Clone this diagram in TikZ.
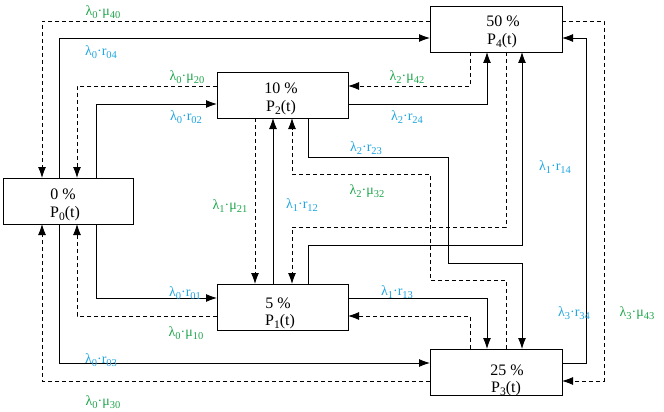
\documentclass[tikz,border=0pt]{standalone}
\usepackage{fontspec}
\setmainfont{Liberation Serif}
\usetikzlibrary{arrows.meta}
\definecolor{lblue}{RGB}{30,165,225}
\definecolor{lgreen}{RGB}{30,165,75}
\newcommand\lsub[1]{\raisebox{-3pt}{\fontsize{10.5}{11}\selectfont #1}}
\newcommand\bsub[1]{\raisebox{-3pt}{\fontsize{11.5}{12}\selectfont #1}}
\newcommand\rlab[3]{λ\lsub{#1}·#2\lsub{#3}}
\tikzset{
  statebox/.style={draw,line width=0.9pt,minimum width=#1,minimum height=46pt,inner sep=0pt,outer sep=0pt},
  boxtxt/.style={inner sep=0pt,font=\fontsize{16}{18}\selectfont},
  conn/.style={line width=0.9pt},
  dsh/.style={line width=0.9pt,dash pattern=on 4pt off 3pt},
  arr/.style={-{Latex[length=11pt,width=8pt]}},
  bl/.style={inner sep=0pt,text=lblue,font=\fontsize{14}{16}\selectfont},
  gr/.style={inner sep=0pt,text=lgreen,font=\fontsize{14}{16}\selectfont}
}
\begin{document}
\begin{tikzpicture}[x=1pt,y=-1pt]
\useasboundingbox (0,0) rectangle (664,412);
% boxes
\node[statebox=132pt] (P4) at (496,29) {};
\node[statebox=131pt] (P2) at (282.5,95) {};
\node[statebox=130pt] (P0) at (68,201) {};
\node[statebox=131pt] (P1) at (282.5,307) {};
\node[statebox=132pt] (P3) at (496,372) {};
% box texts
\node[boxtxt] (t4a) at (503,21.5) {50 \%};
\node[boxtxt] (t4b) at (502,41) {P\bsub{4}(t)};
\node[boxtxt] (t2a) at (281,88) {10 \%};
\node[boxtxt] (t2b) at (281,107.5) {P\bsub{2}(t)};
\node[boxtxt] (t0a) at (63,194) {0 \%};
\node[boxtxt] (t0b) at (65,213.5) {P\bsub{0}(t)};
\node[boxtxt] (t1a) at (278,303) {5 \%};
\node[boxtxt] (t1b) at (280,321.5) {P\bsub{1}(t)};
\node[boxtxt] (t3a) at (507,370) {25 \%};
\node[boxtxt] (t3b) at (506,388.5) {P\bsub{3}(t)};
% P0 <-> P4
\draw[dsh,arr] (P4.west|-0,21) -| (P0.north-|42,0);
\draw[conn,arr] (P0.north-|59,0) |- (P4.west|-0,38);
% P0 <-> P2
\draw[dsh,arr] (P2.west|-0,86) -| (P0.north-|77,0);
\draw[conn,arr] (P0.north-|96,0) |- (P2.west|-0,104);
% P0 <-> P1
\draw[conn,arr] (P0.south-|96,0) |- (P1.west|-0,298);
\draw[dsh,arr] (P1.west|-0,316) -| (P0.south-|77,0);
% P0 <-> P3
\draw[conn,arr] (P0.south-|59,0) |- (P3.west|-0,363);
\draw[dsh,arr] (P3.west|-0,381) -| (P0.south-|42,0);
% P1 <-> P2
\draw[dsh,arr] (P2.south-|255,0) -- (P1.north-|255,0);
\draw[conn,arr] (P1.north-|273,0) -- (P2.south-|273,0);
% P3 -> P2 (mu32)
\draw[dsh,arr] (P3.north-|506,0) -- (506,280) -- (430,280) -- (430,174) -- (292,174) -- (P2.south-|292,0);
% P4 -> P1 (mu41)
\draw[dsh,arr] (P4.south-|506,0) -- (506,227) -- (292,227) -- (P1.north-|292,0);
% P2 -> P3 (r23)
\draw[conn,arr] (P2.south-|308,0) -- (308,157) -- (448,157) -- (448,263) -- (522,263) -- (P3.north-|522,0);
% P1 -> P4 (r14)
\draw[conn,arr] (P1.north-|308,0) -- (308,245) -- (522,245) -- (P4.south-|522,0);
% P1 <-> P3
\draw[conn,arr] (P1.east|-0,298) -| (P3.north-|487,0);
\draw[dsh,arr] (P3.north-|470,0) |- (P1.east|-0,316);
% P2 <-> P4
\draw[dsh,arr] (P4.south-|470,0) |- (P2.east|-0,86);
\draw[conn,arr] (P2.east|-0,104) -| (P4.south-|487,0);
% P3 <-> P4
\draw[conn,arr] (P3.east|-0,363) -- (586,363) -- (586,38) -- (P4.east|-0,38);
\draw[dsh,arr] (P4.east|-0,21) -- (604,21) -- (604,381) -- (P3.east|-0,381);
% labels
\node[gr] (l40) at (103,12) {\rlab{0}{μ}{40}};
\node[bl] (l04) at (101,52) {\rlab{0}{r}{04}};
\node[gr] (l20) at (187,77) {\rlab{0}{μ}{20}};
\node[bl] (l02) at (186,117) {\rlab{0}{r}{02}};
\node[bl] (l01) at (185,293) {\rlab{0}{r}{01}};
\node[gr] (l10) at (186,333) {\rlab{0}{μ}{10}};
\node[bl] (l03) at (101,360) {\rlab{0}{r}{03}};
\node[gr] (l30) at (103,402) {\rlab{0}{μ}{30}};
\node[gr] (l21) at (230,206) {\rlab{1}{μ}{21}};
\node[bl] (l12) at (302,205) {\rlab{1}{r}{12}};
\node[gr] (l42) at (407,77) {\rlab{2}{μ}{42}};
\node[bl] (l24) at (407,117) {\rlab{2}{r}{24}};
\node[bl] (l23) at (366,148) {\rlab{2}{r}{23}};
\node[gr] (l32) at (367,191) {\rlab{2}{μ}{32}};
\node[bl] (l14) at (555,167) {\rlab{1}{r}{14}};
\node[bl] (l13) at (397,292) {\rlab{1}{r}{13}};
\node[bl] (l34) at (574,313) {\rlab{3}{r}{34}};
\node[gr] (l43) at (637,313) {\rlab{3}{μ}{43}};
\end{tikzpicture}
\end{document}
